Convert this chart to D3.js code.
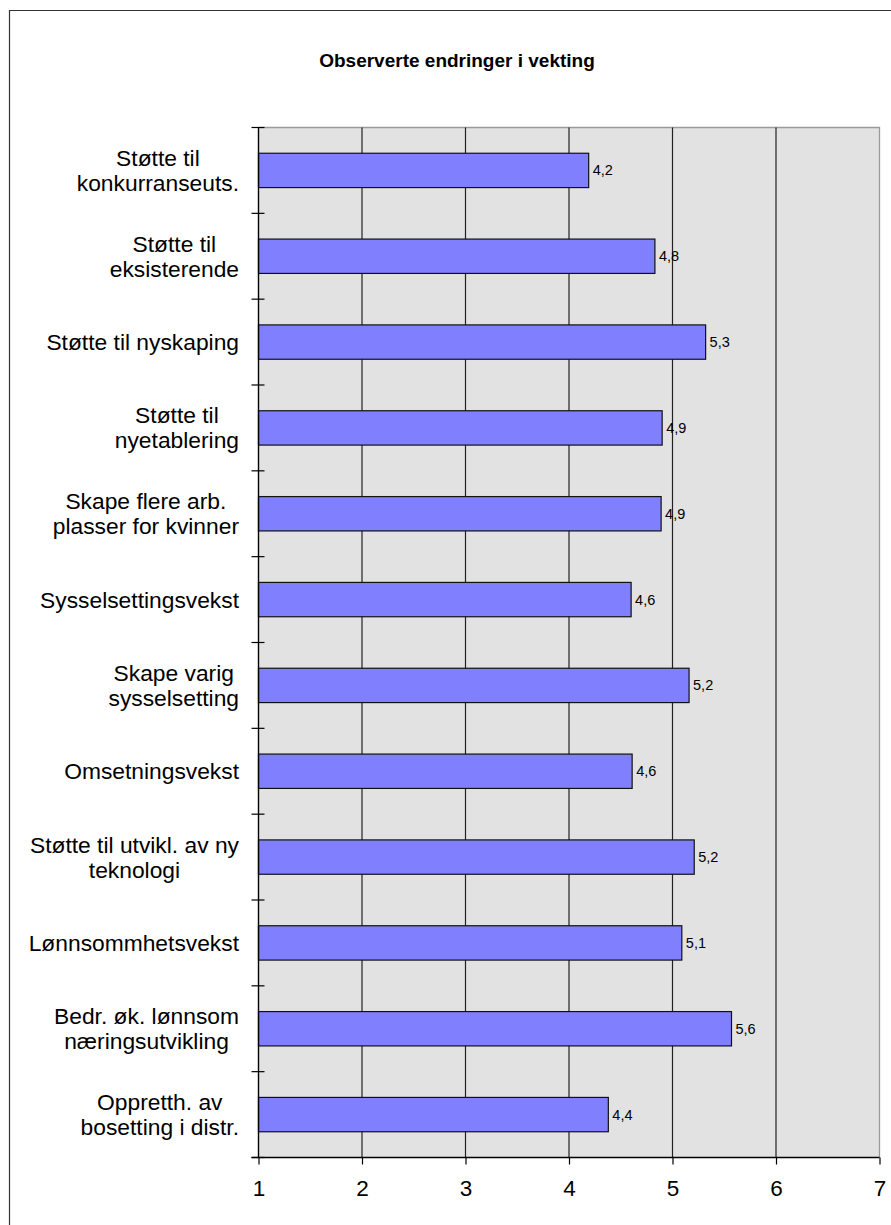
<!DOCTYPE html>
<html>
<head>
<meta charset="utf-8">
<script src="https://cdn.jsdelivr.net/npm/d3@7"></script>
<style>
  html, body { margin: 0; padding: 0; background: #fff; }
  svg { display: block; }
  text { font-family: Arial, "Liberation Sans", sans-serif; fill: #000; }
</style>
</head>
<body>
<svg id="chart" width="891" height="1225"></svg>
<script>
// Category labels (line breaks marked with \n), top to bottom
const categories = [
  "Støtte til\nkonkurranseuts.",
  "Støtte til\neksisterende",
  "Støtte til nyskaping",
  "Støtte til\nnyetablering",
  "Skape flere arb.\nplasser for kvinner",
  "Sysselsettingsvekst",
  "Skape varig\nsysselsetting",
  "Omsetningsvekst",
  "Støtte til utvikl. av ny\nteknologi",
  "Lønnsommhetsvekst",
  "Bedr. øk. lønnsom\nnæringsutvikling",
  "Oppretth. av\nbosetting i distr."
];

// Mean weighting per category
const values = [4.19, 4.83, 5.32, 4.90, 4.89, 4.60, 5.16, 4.61, 5.21, 5.09, 5.57, 4.38];

// Value axis ticks
const xTicks = [1, 2, 3, 4, 5, 6, 7];

const title = "Observerte endringer i vekting";

const svg = d3.select("#chart");

// Chart frame (open on the right and bottom)
svg.append("path")
  .attr("d", "M9.5,1225 V10.5 H891")
  .attr("fill", "none")
  .attr("stroke", "#333")
  .attr("stroke-width", 1.2);

svg.append("text")
  .attr("x", 457)
  .attr("y", 67)
  .attr("text-anchor", "middle")
  .attr("font-weight", "bold")
  .attr("font-size", 19)
  .text(title);

const plot = { left: 258.5, right: 879.5, top: 127.5, bottom: 1157.5 };

const x = d3.scaleLinear()
  .domain([xTicks[0], xTicks[xTicks.length - 1]])
  .range([plot.left, plot.right]);

const y = d3.scaleBand()
  .domain(categories)
  .range([plot.top, plot.bottom])
  .paddingInner(0.6)
  .paddingOuter(0.3);

// Plot background
svg.append("rect")
  .attr("x", plot.left)
  .attr("y", plot.top)
  .attr("width", plot.right - plot.left)
  .attr("height", plot.bottom - plot.top)
  .attr("fill", "#e2e2e2");

// Top and right plot border
svg.append("path")
  .attr("d", `M${plot.left},${plot.top} H${plot.right} V${plot.bottom}`)
  .attr("fill", "none")
  .attr("stroke", "#9a9a9a")
  .attr("stroke-width", 1.3);

// Vertical gridlines
svg.append("g")
  .selectAll("line")
  .data(xTicks.slice(1, -1))
  .join("line")
  .attr("x1", d => x(d))
  .attr("x2", d => x(d))
  .attr("y1", plot.top)
  .attr("y2", plot.bottom)
  .attr("stroke", "#222")
  .attr("stroke-width", 1.2);

// Bars
svg.append("g")
  .selectAll("rect")
  .data(values)
  .join("rect")
  .attr("x", x(1))
  .attr("y", (d, i) => y(categories[i]))
  .attr("width", d => x(d) - x(1))
  .attr("height", y.bandwidth())
  .attr("fill", "#8080ff")
  .attr("stroke", "#111")
  .attr("stroke-width", 1.2);

// Value labels
const fmt = v => d3.format(".1f")(v).replace(".", ",");
svg.append("g")
  .selectAll("text")
  .data(values)
  .join("text")
  .attr("x", d => x(d) + 4)
  .attr("y", (d, i) => y(categories[i]) + y.bandwidth() / 2)
  .attr("dy", "0.35em")
  .attr("font-size", 14.5)
  .text(d => fmt(d));

// Category axis with cross tick marks at category boundaries
const yAxis = svg.append("g");
yAxis.append("line")
  .attr("x1", plot.left).attr("x2", plot.left)
  .attr("y1", plot.top).attr("y2", plot.bottom)
  .attr("stroke", "#000").attr("stroke-width", 1.4);
const boundaries = d3.range(categories.length + 1).map(i => plot.top + i * y.step());
yAxis.selectAll("line.tick")
  .data(boundaries)
  .join("line")
  .attr("class", "tick")
  .attr("x1", plot.left - 7).attr("x2", plot.left + 6)
  .attr("y1", d => d).attr("y2", d => d)
  .attr("stroke", "#000").attr("stroke-width", 1.2);

// Category labels: block right-aligned, lines centred within the block
const labelRight = 239;
const lineH = 25;
const labelG = svg.append("g").attr("font-size", 22.8);
categories.forEach(c => {
  const lines = c.split("\n");
  const cy = y(c) + y.bandwidth() / 2;
  const t = labelG.append("text").attr("text-anchor", "middle");
  lines.forEach((ln, k) => {
    t.append("tspan")
      .attr("y", cy + (k - (lines.length - 1) / 2) * lineH)
      .attr("dy", "0.35em")
      .text(ln);
  });
  const w = d3.max(t.selectAll("tspan").nodes(), n => n.getComputedTextLength());
  t.selectAll("tspan").attr("x", labelRight - w / 2);
});

// Value axis
const xAxis = svg.append("g")
  .attr("transform", `translate(0,${plot.bottom})`)
  .call(d3.axisBottom(x).tickValues(xTicks).tickSize(7).tickPadding(16).tickFormat(d3.format("d")));
xAxis.select(".domain").attr("stroke", "#000").attr("stroke-width", 1.4)
  .attr("d", `M${plot.left - 7},0 H${plot.right}`);
xAxis.selectAll(".tick line").attr("stroke", "#000").attr("stroke-width", 1.2);
xAxis.selectAll(".tick text")
  .attr("font-size", 22.5)
  .attr("font-family", "Arial, 'Liberation Sans', sans-serif")
  .attr("fill", "#000");
</script>
</body>
</html>
